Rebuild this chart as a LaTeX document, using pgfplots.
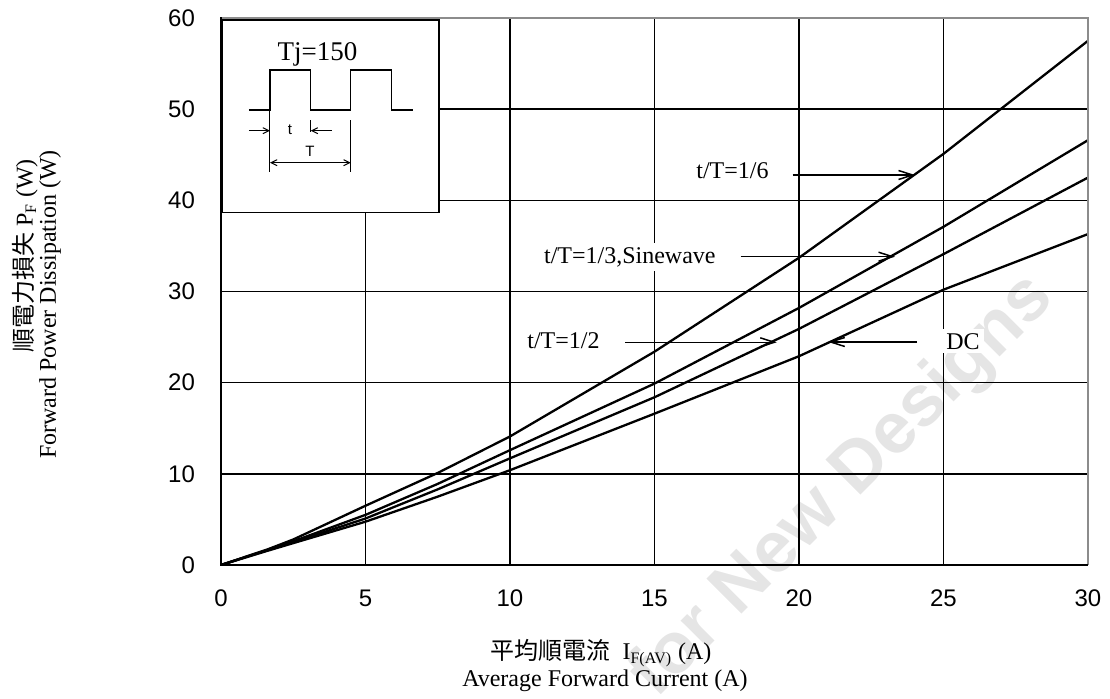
\documentclass[border=0pt]{standalone}
\usepackage{fontspec}
\setmainfont{Liberation Serif}
\newfontfamily\arialf{Liberation Sans}
\newfontfamily\cjk{Noto Sans CJK TC}
\usepackage{pgfplots}
\pgfplotsset{compat=1.18}
\usetikzlibrary{arrows.meta}
\begin{document}
\begin{tikzpicture}[x=1pt,y=1pt]
\path[use as bounding box] (-110.5,-66.5) rectangle (444.5,282.5);
\node[rotate=45, text=black!10, font=\arialf\bfseries\fontsize{36}{40}\selectfont] at (311,39) {for New Designs};
\begin{axis}[at={(0,0)}, anchor=south west, scale only axis,
  width=433.5pt, height=273.5pt,
  xmin=0, xmax=30, ymin=0, ymax=60,
  xtick={0,5,...,30}, ytick={0,10,...,60},
  grid=major, grid style={black, line width=0.75pt},
  major tick length=0pt,
  axis line style={draw=none},
  tick label style={font=\arialf\fontsize{12}{14}\selectfont},
  /pgf/number format/assume math mode=true,
  xticklabel style={yshift=-9pt},
  yticklabel style={xshift=-9.5pt},
]
% t/T=1/6
\addplot[black, line width=1.15pt] coordinates {
(0,0) (1.6,1.7) (2.5,2.8) (5,6.5) (7.5,10.1) (10,14.1) (15,23.4) (20,33.7) (25,45.1) (30,57.5)};
% t/T=1/3, sinewave
\addplot[black, line width=1.15pt] coordinates {
(0,0) (1.6,1.65) (2.5,2.6) (5,5.5) (7.5,8.9) (10,12.6) (15,19.9) (20,28.2) (25,37.1) (30,46.6)};
% t/T=1/2
\addplot[black, line width=1.15pt] coordinates {
(0,0) (1.6,1.62) (2.5,2.5) (5,5.1) (7.5,8.3) (10,11.7) (15,18.4) (20,25.9) (25,34.1) (30,42.5)};
% DC
\addplot[black, line width=1.15pt] coordinates {
(0,0) (1.6,1.55) (2.5,2.4) (5,4.75) (7.5,7.5) (10,10.4) (15,16.6) (20,22.9) (25,30.2) (30,36.3)};
\end{axis}
% frame
\draw[black!45, line width=1pt] (0,273.5) -- (433.5,273.5) -- (433.5,0);
\draw[black, line width=1.3pt] (0,274) -- (0,0) -- (433.5,0);
% axis labels
\node[rotate=90, font=\fontsize{12}{14}\selectfont] at (-98,154.5) {{\cjk 順電力損失} P\textsubscript{F} (W)};
\node[rotate=90, font=\fontsize{12}{14}\selectfont] at (-85.5,130.25) {Forward Power Dissipation (W)};
\node[anchor=base, font=\fontsize{12}{14}\selectfont] at (190,-47.2) {{\cjk 平均順電流}\ \ I\textsubscript{F(AV)} (A)};
\node[anchor=base, font=\fontsize{12}{14}\selectfont] at (192,-60.5) {Average Forward Current (A)};
% annotations
\tikzset{ann/.style={fill=white, inner sep=2pt, font=\fontsize{12}{14}\selectfont},
         arr/.style={line width=0.75pt, -{Straight Barb[length=7pt,width=4.5pt]}}}
\node[ann, anchor=base east] at (276,193.5) {t/T=1/6};
\draw[arr] (285.85,195) -- (347,195);
\node[ann, anchor=base east] at (249.5,150.85) {t/T=1/3,Sinewave};
\draw[arr] (259.85,154.15) -- (337,154.15);
\node[ann, anchor=base east] at (191.5,108.35) {t/T=1/2};
\draw[arr] (202,111.35) -- (277.85,111.35);
\node[ann, anchor=base west] at (360.5,108) {DC};
\draw[arr] (348,111.5) -- (303.65,111.5);
% inset
\draw[black, line width=0.7pt, fill=white] (0.65,272.5) rectangle (109,176.15);
\node[anchor=base, font=\fontsize{13.5}{15}\selectfont, inner sep=0pt] at (48.25,252.5) {Tj=150};
\draw[black, line width=0.6pt] (14,227.5) -- (24.5,227.5) -- (24.5,247.5) -- (44.85,247.5) -- (44.85,227.5) -- (64.85,227.5) -- (64.85,247.5) -- (85.35,247.5) -- (85.35,227.5) -- (95.85,227.5);
\draw[black, line width=0.5pt] (24.5,227.5) -- (24.5,196.65);
\draw[black, line width=0.5pt] (44.85,222.5) -- (44.85,216.65);
\draw[black, line width=0.5pt] (64.85,222.5) -- (64.85,196.65);
\draw[black, line width=0.5pt, -{Straight Barb[length=3pt,width=3pt]}] (14,217.15) -- (24.5,217.15);
\draw[black, line width=0.5pt, -{Straight Barb[length=3pt,width=3pt]}] (55.35,217.15) -- (44.85,217.15);
\draw[black, line width=0.5pt, {Straight Barb[length=3pt,width=3pt]}-{Straight Barb[length=3pt,width=3pt]}] (24.5,201.15) -- (64.85,201.15);
\node[font=\arialf\fontsize{7.5}{9}\selectfont, inner sep=0pt] at (34.5,217.5) {t};
\node[font=\arialf\fontsize{7.5}{9}\selectfont, inner sep=0pt] at (44.5,206.65) {T};
\end{tikzpicture}
\end{document}
